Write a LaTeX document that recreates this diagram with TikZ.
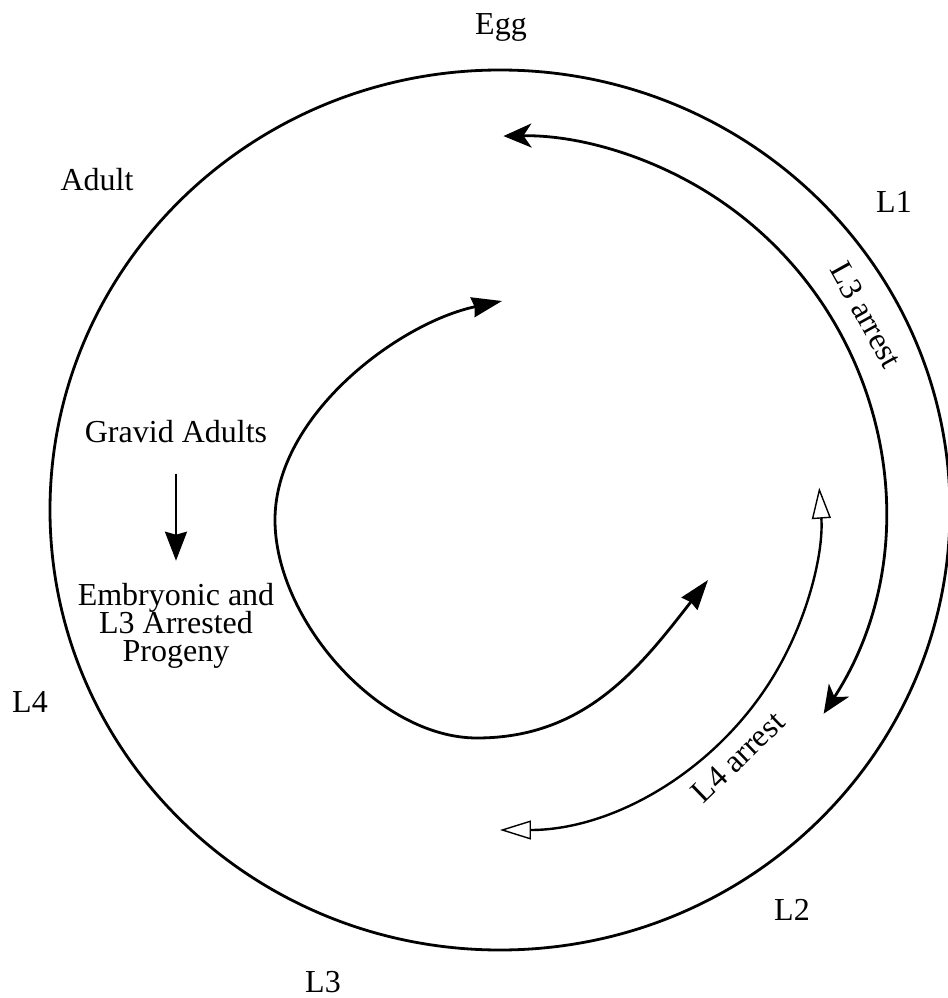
\documentclass[tikz,border=0pt]{standalone}
\usepackage{fontspec}
\setmainfont{Liberation Serif}
\usepackage{tikz}
\usetikzlibrary{arrows.meta,positioning}
\newcommand{\lblfont}{\fontsize{16pt}{14pt}\selectfont\lineskiplimit=-8pt\relax}
\tikzset{
  lbl/.style     = {inner sep=0pt, font=\lblfont},
  ring/.style    = {line width=1.4pt},
  barbed/.style  = {ring, {Stealth[length=14pt,width=12pt,inset=4pt]}-{Stealth[length=14pt,width=12pt,inset=4pt]}},
  hollow/.style  = {line width=1.2pt, {Triangle[open,length=15.5pt,width=9.5pt,line width=0.7pt]}-{Triangle[open,length=15.5pt,width=9.5pt,line width=0.7pt]}},
  spiral/.style  = {ring, {Stealth[length=15pt,width=10pt,inset=1pt]}-{Stealth[length=15pt,width=10pt,inset=1pt]}},
  downarr/.style = {line width=1.2pt, -{Stealth[length=14.5pt,width=11pt,inset=1.5pt]}},
}

\begin{document}
\begin{tikzpicture}[x=0.5pt, y=0.5pt]
  \useasboundingbox (-500,-488) rectangle (448,510);

  % the life cycle ring and its stages
  \draw[ring] (0,0) ellipse[x radius=450, y radius=440];
  \node[lbl, anchor=base] (egg)   at (1,476)     {Egg};
  \node[lbl, anchor=base] (l1)    at (394,298)   {L1};
  \node[lbl, anchor=base] (l2)    at (292,-410)  {L2};
  \node[lbl, anchor=base] (l3)    at (-177,-482) {L3};
  \node[lbl, anchor=base] (l4)    at (-470,-202) {L4};
  \node[lbl, anchor=base] (adult) at (-403,320)  {Adult};

  % arrest routes inside the ring
  \draw[barbed] (10,0) ++(-33:374) arc[start angle=-33, end angle=91, radius=374];
  \node[lbl, rotate=-61] (l3arrest) at (366,195) {L3 arrest};
  \draw[hollow] (-90:320) arc[start angle=-90, end angle=4, radius=320];
  \node[lbl, rotate=44] (l4arrest) at (238,-247) {L4 arrest};

  % inner loop
  \coordinate (top)  at (2,209);
  \coordinate (left) at (-225,-10);
  \coordinate (bot)  at (-23,-228);
  \coordinate (tip)  at (208,-70);
  \draw[spiral] (top) to[out=192, in=90, looseness=0.85] (left)
                      to[out=-90, in=180, looseness=0.85] (bot)
                      to[out=0, in=232] (tip);

  % gravid adults -> progeny
  \node[lbl, anchor=base] (gravid) at (-324,68) {Gravid Adults};
  \node[lbl, align=center, below=70pt of gravid] (embryo) {Embryonic and\\L3 Arrested\\Progeny};
  \draw[downarr, shorten <=15.5pt, shorten >=11pt] (gravid) -- (embryo);
\end{tikzpicture}
\end{document}
